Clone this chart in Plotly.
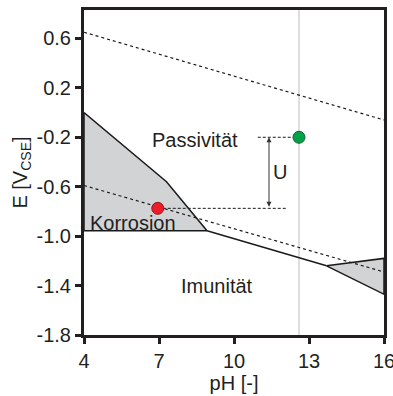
import plotly.graph_objects as go

# ---- data ----
x_ticks = [4, 7, 10, 13, 16]
y_ticks = [0.6, 0.2, -0.2, -0.6, -1.0, -1.4, -1.8]
y_ticktext = ["0.6", "0.2", "-0.2", "-0.6", "-1.0", "-1.4", "-1.8"]

o2_ph = [4, 16]
o2_e = [0.65, -0.06]
h2_ph = [4, 16]
h2_e = [-0.59, -1.29]

korr_ph = [4, 7.3, 8.92, 4, 4]
korr_e = [0.0, -0.56, -0.957, -0.957, 0.0]

fe_line_ph = [8.92, 13.7]
fe_line_e = [-0.957, -1.24]

tri_ph = [13.7, 16, 16, 13.7]
tri_e = [-1.24, -1.18, -1.47, -1.24]

ph_concrete = 12.6
green_pt = (12.6, -0.2)
red_pt = (6.95, -0.775)
dash_green_ph = [10.95, 12.6]
dash_red_ph = [6.95, 12.15]
arrow_ph = 11.4

labels = ["Passivität", "Korrosion", "Imunität", "U"]
label_ph = [8.44, 5.96, 9.3, 11.85]
label_e = [-0.22, -0.895, -1.40, -0.48]

font = "Liberation Sans, Arial, sans-serif"
fs = 20

fig = go.Figure()

fig.add_trace(go.Scatter(x=[ph_concrete, ph_concrete], y=[-1.8, 0.83], mode="lines",
                         line=dict(color="#c8c8c8", width=1.2), hoverinfo="skip"))

fig.add_trace(go.Scatter(x=korr_ph, y=korr_e, mode="lines", fill="toself",
                         fillcolor="#d1d3d4", line=dict(color="#1a1a1a", width=1.5)))
fig.add_trace(go.Scatter(x=tri_ph, y=tri_e, mode="lines", fill="toself",
                         fillcolor="#d1d3d4", line=dict(color="#1a1a1a", width=1.5)))
fig.add_trace(go.Scatter(x=fe_line_ph, y=fe_line_e, mode="lines",
                         line=dict(color="#1a1a1a", width=1.5)))

fig.add_trace(go.Scatter(x=o2_ph, y=o2_e, mode="lines",
                         line=dict(color="#1a1a1a", width=1.2, dash="dot")))
fig.add_trace(go.Scatter(x=h2_ph, y=h2_e, mode="lines",
                         line=dict(color="#1a1a1a", width=1.2, dash="dot")))

fig.add_trace(go.Scatter(x=dash_green_ph, y=[green_pt[1], green_pt[1]], mode="lines",
                         line=dict(color="#1a1a1a", width=1, dash="3px,2px")))
fig.add_trace(go.Scatter(x=dash_red_ph, y=[red_pt[1], red_pt[1]], mode="lines",
                         line=dict(color="#1a1a1a", width=1, dash="3px,2px")))

fig.add_trace(go.Scatter(x=[green_pt[0]], y=[green_pt[1]], mode="markers",
                         marker=dict(color="#00a14b", size=12, line=dict(color="#1d5e2e", width=1))))
fig.add_trace(go.Scatter(x=[red_pt[0]], y=[red_pt[1]], mode="markers",
                         marker=dict(color="#ec1c2a", size=12, line=dict(color="#8a1a1a", width=1))))

fig.add_annotation(x=arrow_ph, y=green_pt[1], ax=arrow_ph, ay=red_pt[1],
                   xref="x", yref="y", axref="x", ayref="y", text="",
                   showarrow=True, arrowhead=2, arrowsize=1, arrowwidth=1,
                   arrowside="end+start", arrowcolor="#333333")

for t, px, py in zip(labels, label_ph, label_e):
    fig.add_annotation(x=px, y=py, xref="x", yref="y", text=t, showarrow=False,
                       font=dict(family=font, size=fs, color="#231f20"))

fig.update_layout(
    width=393, height=396,
    margin=dict(l=84, r=9, t=10, b=61),
    plot_bgcolor="white", paper_bgcolor="white",
    showlegend=False,
    font=dict(family=font, size=fs, color="#231f20"),
)
fig.update_xaxes(range=[4, 16], tickvals=x_ticks, showgrid=False, zeroline=False,
                 automargin=False, ticklabeloverflow="allow",
                 showline=True, mirror=True, linecolor="#231f20", linewidth=3,
                 ticks="outside", ticklen=6, tickwidth=3, tickcolor="#231f20",
                 title=dict(text="pH [-]", standoff=2, font=dict(size=fs)))
fig.update_yaxes(range=[-1.8, 0.83], tickvals=y_ticks, ticktext=y_ticktext,
                 showgrid=False, zeroline=False, automargin=False,
                 ticklabeloverflow="allow",
                 showline=True, mirror=True, linecolor="#231f20", linewidth=3,
                 ticks="outside", ticklen=6, tickwidth=3, tickcolor="#231f20",
                 title=dict(text="E [V<sub>CSE</sub>]", standoff=4, font=dict(size=fs)))

fig.write_html("out.html", post_script="document.body.style.margin='0';",
               config={"displayModeBar": False})
